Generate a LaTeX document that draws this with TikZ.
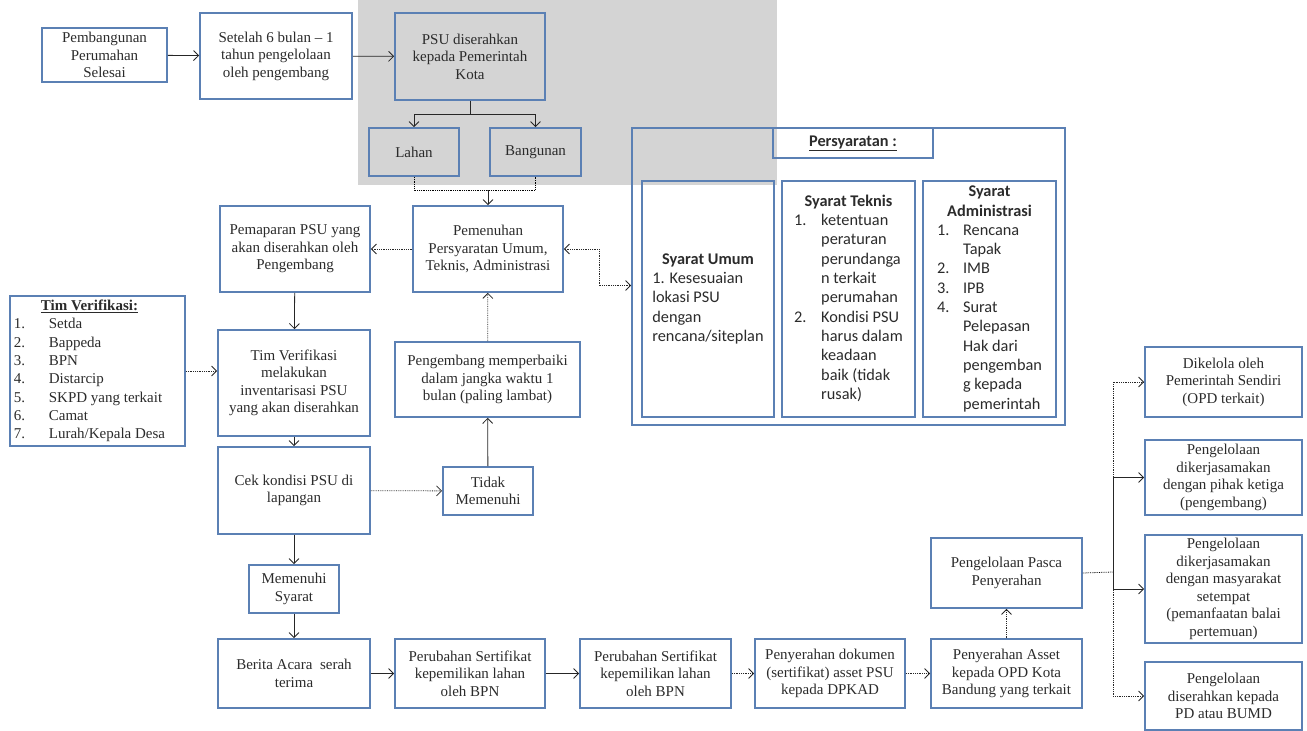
\documentclass[tikz,border=0pt]{standalone}
\usepackage{fontspec}
\setmainfont{Liberation Serif}
\newfontfamily\calibri{Carlito}
\usetikzlibrary{arrows.meta}

\definecolor{kotakbiru}{HTML}{5B80B4}
\definecolor{latarabu}{HTML}{D4D4D4}
\definecolor{teks}{HTML}{2B2B2B}

\begin{document}
\begin{tikzpicture}[x=1pt, y=-1pt,
  >={Straight Barb[length=5pt,width=10pt]},
  kotak/.style={draw=kotakbiru, line width=1.8pt, align=center, inner sep=1pt,
    text=teks, font=\fontsize{15}{17.5}\selectfont},
  syaratbox/.style={kotak, font=\calibri\fontsize{16.3}{19.3}\selectfont},
  panah/.style={->, line width=0.8pt, draw=black!85},
  titik/.style={panah, densely dotted}]

\useasboundingbox (0,0) rectangle (1307,731);
% gray band behind the top of the chart
\fill[latarabu] (358,0) rectangle (777,185);

% top row
\node[kotak, minimum width=125, minimum height=54] (selesai) at (104.5,55) {Pembangunan\\Perumahan\\Selesai};
\node[kotak, minimum width=152, minimum height=86] (setelah) at (276,56) {Setelah 6 bulan -- 1\\tahun pengelolaan\\oleh pengembang};
\node[kotak, minimum width=150, minimum height=87] (psu) at (470,56.5) {PSU diserahkan\\kepada Pemerintah\\Kota};
\node[kotak, minimum width=90, minimum height=48] (lahan) at (414,152) {Lahan};
\node[kotak, minimum width=91, minimum height=48] (bangunan) at (535.5,152) {Bangunan};

% requirements block
\node[syaratbox, minimum width=433, minimum height=297] (syarat) at (848.5,276.5) {};
\node[syaratbox, minimum width=160, minimum height=30] (judul) at (853,143) {\bfseries\underline{Persyaratan :}};
\node[syaratbox, minimum width=132, minimum height=236] (umum) at (708,299) {%
  \begin{tabular}{@{}l@{}}
  \multicolumn{1}{c}{\bfseries Syarat Umum}\\
  1. Kesesuaian\\ lokasi PSU\\ dengan\\ rencana/siteplan
  \end{tabular}};
\node[syaratbox, minimum width=133, minimum height=236] (teknis) at (848.5,299) {%
  \begin{tabular}{@{}p{27pt}@{}l@{}}
  \multicolumn{2}{c}{\bfseries Syarat Teknis}\\
  1. & ketentuan\\ & peraturan\\ & perundanga\\ & n terkait\\ & perumahan\\
  2. & Kondisi PSU\\ & harus dalam\\ & keadaan\\ & baik (tidak\\ & rusak)
  \end{tabular}};
\node[syaratbox, minimum width=133, minimum height=236] (admin) at (989.5,299) {%
  \begin{tabular}{@{}p{26pt}@{}l@{}}
  \multicolumn{2}{c}{\bfseries Syarat}\\
  \multicolumn{2}{c}{\bfseries Administrasi}\\
  1. & Rencana\\ & Tapak\\
  2. & IMB\\
  3. & IPB\\
  4. & Surat\\ & Pelepasan\\ & Hak dari\\ & pengemban\\ & g kepada\\ & pemerintah
  \end{tabular}};

% verification part
\node[kotak, minimum width=150, minimum height=86] (pemaparan) at (295,249) {Pemaparan PSU yang\\akan diserahkan oleh\\Pengembang};
\node[kotak, minimum width=150, minimum height=86] (pemenuhan) at (488,249) {Pemenuhan\\Persyaratan Umum,\\Teknis, Administrasi};
\node[kotak, minimum width=175, minimum height=150, inner sep=0pt,
  font=\fontsize{15}{18.3}\selectfont] (tim) at (97.5,371) {%
  \begin{tabular}{@{}p{35pt}@{}l@{}}
  \multicolumn{2}{c}{\bfseries\underline{Tim Verifikasi:}}\\
  1. & Setda\\ 2. & Bappeda\\ 3. & BPN\\ 4. & Distarcip\\
  5. & SKPD yang terkait\\ 6. & Camat\\ 7. & Lurah/Kepala Desa
  \end{tabular}\hspace*{16pt}};
\node[kotak, minimum width=152, minimum height=106] (verif) at (294,383) {Tim Verifikasi\\melakukan\\inventarisasi PSU\\yang akan diserahkan};
\node[kotak, minimum width=185, minimum height=75] (perbaiki) at (487.5,379.5) {Pengembang memperbaiki\\dalam jangka waktu 1\\bulan (paling lambat)};
\node[kotak, minimum width=152, minimum height=87] (cek) at (294,490.5) {Cek kondisi PSU di\\lapangan};
\node[kotak, minimum width=90, minimum height=48] (tidak) at (488,491) {Tidak\\Memenuhi};
\node[kotak, minimum width=90, minimum height=48] (memenuhi) at (294,589) {Memenuhi\\Syarat};

% bottom row
\node[kotak, minimum width=152, minimum height=69] (berita) at (294,673.5) {Berita Acara~ serah\\terima};
\node[kotak, minimum width=150, minimum height=69] (ubahA) at (470,673.5) {Perubahan Sertifikat\\kepemilikan lahan\\oleh BPN};
\node[kotak, minimum width=151, minimum height=69] (ubahB) at (655.5,673.5) {Perubahan Sertifikat\\kepemilikan lahan\\oleh BPN};
\node[kotak, minimum width=150, minimum height=69] (dokumen) at (830,673.5) {Penyerahan dokumen\\(sertifikat) asset PSU\\kepada DPKAD};
\node[kotak, minimum width=151, minimum height=69] (aset) at (1006.5,673.5) {Penyerahan Asset\\kepada OPD Kota\\Bandung yang terkait};
\node[kotak, minimum width=151, minimum height=70] (pasca) at (1006.5,573) {Pengelolaan Pasca\\Penyerahan};

% management options
\node[kotak, minimum width=157, minimum height=70] (kelolaA) at (1223.5,382) {Dikelola oleh\\Pemerintah Sendiri\\(OPD terkait)};
\node[kotak, minimum width=157, minimum height=75] (kelolaB) at (1223.5,477.5) {Pengelolaan\\dikerjasamakan\\dengan pihak ketiga\\(pengembang)};
\node[kotak, minimum width=157, minimum height=108] (kelolaC) at (1223.5,589) {Pengelolaan\\dikerjasamakan\\dengan masyarakat\\setempat\\(pemanfaatan balai\\pertemuan)};
\node[kotak, minimum width=157, minimum height=68] (kelolaD) at (1223.5,696) {Pengelolaan\\diserahkan kepada\\PD atau BUMD};

\coordinate (gabung) at (488,190);
\coordinate (cabang) at (1113,572);

% connectors
\draw[panah] (selesai) -- (setelah);
\draw[panah] (setelah) -- (psu);
\draw[panah] (psu.south) -- ++(0,13) -| (lahan.north);
\draw[panah] (psu.south) -- ++(0,13) -| (bangunan.north);
\draw[line width=0.8pt, densely dotted] (lahan.south) |- (gabung) -| (bangunan.south);
\draw[panah] (gabung) -- (pemenuhan.north);
\draw[titik] (pemenuhan) -- (pemaparan);
\draw[titik, <->] (pemenuhan.east) -- ++(35,0) |- ([yshift=-9pt]syarat.west);
\draw[panah] (pemaparan) -- (verif);
\draw[titik] (tim.east) -- (tim.east -| verif.west);
\draw[panah] (verif) -- (cek);
\draw[titik] (cek) -- (tidak);
\draw[panah] (tidak) -- (perbaiki);
\draw[titik] (perbaiki) -- (pemenuhan);
\draw[panah] (cek) -- (memenuhi);
\draw[panah] (memenuhi) -- (berita);
\draw[panah] (berita) -- (ubahA);
\draw[panah] (ubahA) -- (ubahB);
\draw[titik] (ubahB) -- (dokumen);
\draw[titik] (dokumen) -- (aset);
\draw[titik] (aset) -- (pasca);
\draw[line width=0.8pt, densely dotted] (pasca.east) -- (cabang);
\foreach \k/\g in {kelolaA/densely dotted, kelolaB/solid, kelolaC/solid, kelolaD/densely dotted}
  \draw[panah, \g] (cabang) |- (\k.west);
\end{tikzpicture}
\end{document}
